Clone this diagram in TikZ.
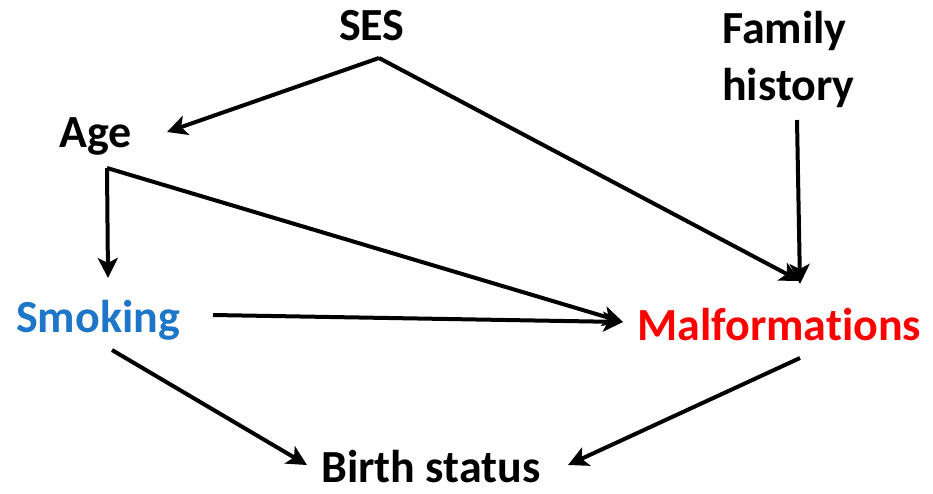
\documentclass[tikz,border=0pt]{standalone}
\usepackage{fontspec}
\setmainfont{Carlito}[Ligatures=NoCommon]
\usetikzlibrary{arrows.meta}
\definecolor{smokeblue}{RGB}{30,118,200}
\definecolor{malred}{RGB}{255,0,0}
\begin{document}
\begin{tikzpicture}[x=1pt,y=-1pt,
  lbl/.style={font=\fontsize{46}{57}\selectfont\bfseries, inner sep=0pt, anchor=base west},
  arr/.style={line width=4pt, -{Stealth[length=20pt,width=20pt,inset=5pt]}, line join=miter}]
\useasboundingbox (0,0) rectangle (933,493);
\node[lbl] (ses) at (339,40) {SES};
\node[lbl] (fam) at (722,43) {Family};
\node[lbl] (his) at (722,100) {history};
\node[lbl] (age) at (59,147) {Age};
\node[lbl, text=smokeblue] (smk) at (16,332) {Smoking};
\node[lbl, text=malred] (mal) at (637,340) {Malformations};
\node[lbl] (bir) at (321,482) {Birth status};
% connector ends
\coordinate (sesP) at (379,58);
\coordinate (ageIn) at (167,132);
\coordinate (malInSES) at (800,281);
\coordinate (famOut) at (797,120);
\coordinate (malInFam) at (800,284);
\coordinate (ageP) at (107,168);
\coordinate (smkIn) at (108,278);
\coordinate (malInL) at (623,322);
\coordinate (smkOutR) at (213,315);
\coordinate (smkOutB) at (112,350);
\coordinate (birInL) at (307,465);
\coordinate (malOut) at (800,358);
\coordinate (birInR) at (568,465);
\draw[arr] (sesP) -- (ageIn);
\draw[arr] (sesP) -- (malInSES);
\draw[arr] (famOut) -- (malInFam);
\draw[arr] (ageP) -- (smkIn);
\draw[arr] (ageP) -- (malInL);
\draw[arr] (smkOutR) -- (malInL);
\draw[arr] (smkOutB) -- (birInL);
\draw[arr] (malOut) -- (birInR);
\end{tikzpicture}
\end{document}
